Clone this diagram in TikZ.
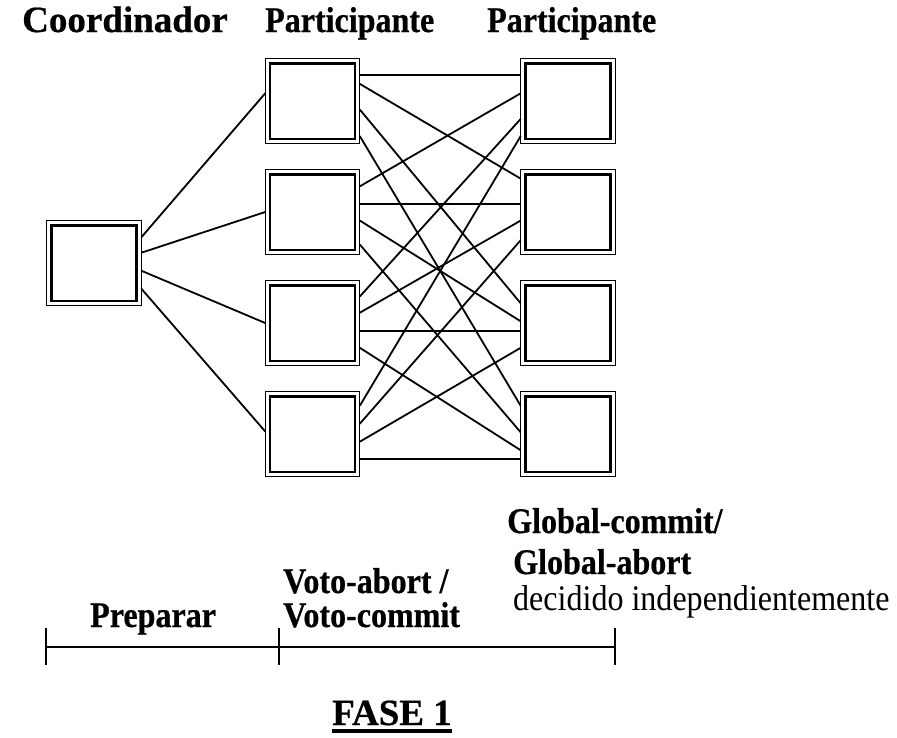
\documentclass[tikz,border=0pt]{standalone}
\usepackage{fontspec}
\setmainfont{Liberation Serif}
\newfontfamily\estrecha[FakeStretch=0.89, BoldFeatures={FakeBold=0.6}]{Liberation Serif}
\newfontfamily\ancha[BoldFeatures={FakeBold=0.6}]{Liberation Serif}
\usetikzlibrary{calc}

\begin{document}
\begin{tikzpicture}[
      x=1pt, y=-1pt,
      caja/.style={draw, line width=1.3pt, inner sep=0pt, outer sep=0pt,
                   minimum width=94.6pt, minimum height=85.5pt,
                   path picture={\draw[line width=2.5pt]
                     ([shift={(5pt,5pt)}]path picture bounding box.south west) rectangle
                     ([shift={(-5pt,-5pt)}]path picture bounding box.north east);}},
      enlace/.style={line width=1.8pt},
      titulo/.style={anchor=base west, inner sep=0pt,
                     font=\estrecha\bfseries\fontsize{36}{40}\selectfont},
      grande/.style={anchor=base west, inner sep=0pt,
                     font=\ancha\bfseries\fontsize{37}{40}\selectfont},
      nota/.style={anchor=base west, inner sep=0pt,
                   font=\estrecha\fontsize{36}{40}\selectfont},
      eje/.style={line width=1.8pt}
    ]
    \useasboundingbox (0,0) rectangle (897,737);

    \node[grande] (tcoord) at (22,32)  {Coordinador};
    \node[titulo] (tpa)    at (265,32) {Participante};
    \node[titulo] (tpb)    at (487,32) {Participante};

    \node[caja] (coord) at (94,263) {};
    \foreach \k/\y in {1/101, 2/212, 3/323, 4/434} {
      \node[caja] (pa\k) at (312.5,\y) {};
      \node[caja] (pb\k) at (568,\y) {};
    }

    \foreach \i/\a/\b in {1/0.2/0.41, 2/0.38/0.5, 3/0.59/0.5, 4/0.8/0.47}
      \draw[enlace] ($(coord.north east)!\a!(coord.south east)$)
                 -- ($(pa\i.north west)!\b!(pa\i.south west)$);

    \foreach \i/\j/\a/\b in {1/1/0.2/0.2, 1/2/0.3/0.11, 1/3/0.6/0.27, 1/4/0.91/0.17,
                             2/1/0.2/0.41, 2/2/0.41/0.41, 2/3/0.6/0.48, 2/4/0.88/0.48,
                             3/1/0.19/0.71, 3/2/0.38/0.6, 3/3/0.59/0.59, 3/4/0.79/0.69,
                             4/1/0.17/0.91, 4/2/0.38/0.83, 4/3/0.59/0.79, 4/4/0.79/0.79}
      \draw[enlace] ($(pa\i.north east)!\a!(pa\i.south east)$)
                 -- ($(pb\j.north west)!\b!(pb\j.south west)$);

    \node[titulo] (gc)   at (507,533) {Global-commit/};
    \node[titulo] (ga)   at (513,574) {Global-abort};
    \node[nota]   (dec)  at (513,610) {decidido independientemente};
    \node[titulo] (va)   at (283,593) {Voto-abort /};
    \node[titulo] (vc)   at (283,627) {Voto-commit};
    \node[titulo] (prep) at (90,627)  {Preparar};

    \coordinate (t0) at (46,647);
    \coordinate (t1) at (279,647);
    \coordinate (t2) at (615,647);
    \draw[eje] (t0) -- (t1) -- (t2);
    \foreach \t in {t0,t1,t2}
      \draw[eje] ([yshift=19pt]\t) -- ([yshift=-18pt]\t);

    \node[grande] (fase) at (332,725) {FASE 1};
    \draw[line width=4pt] ([yshift=-6pt]fase.base west) -- ([yshift=-6pt]fase.base east);
  \end{tikzpicture}
\end{document}
